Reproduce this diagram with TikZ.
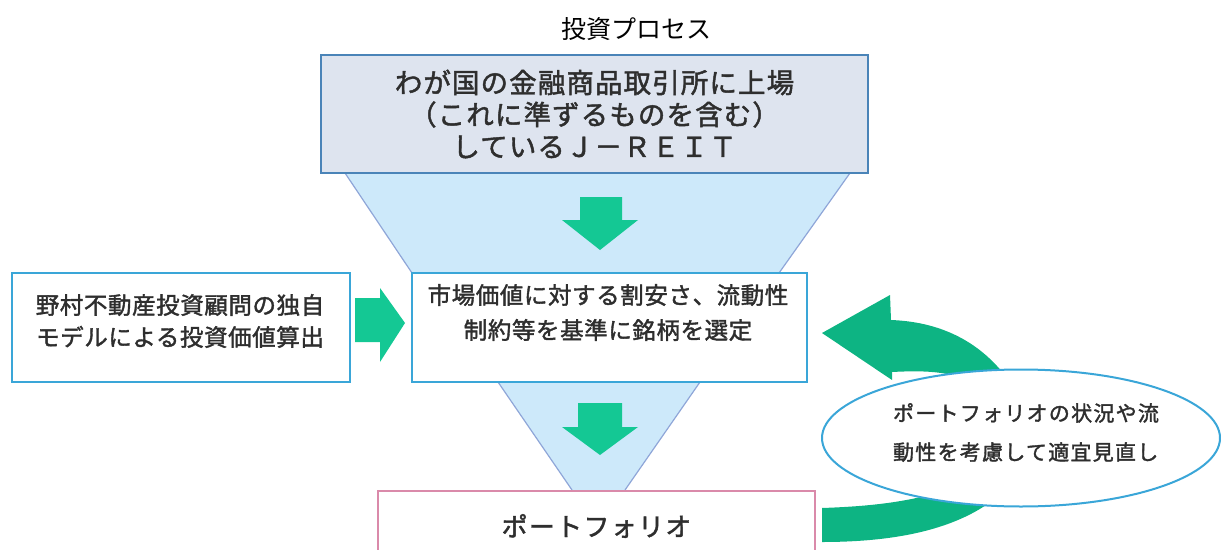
\documentclass[tikz,border=0pt]{standalone}
\usepackage{fontspec}
\setmainfont{Noto Sans CJK JP}
\newfontfamily\jpbold{Noto Sans CJK JP}[FakeBold=1.6]
\usetikzlibrary{shapes.geometric}
\definecolor{funnelfill}{HTML}{CDE9FA}
\definecolor{funneledge}{HTML}{8FA6D8}
\definecolor{topfill}{HTML}{DEE4EF}
\definecolor{topedge}{HTML}{4A84B8}
\definecolor{boxedge}{HTML}{3AA6D8}
\definecolor{pinkedge}{HTML}{DA8AAA}
\definecolor{arrowgreen}{HTML}{14C894}
\definecolor{curvegreen}{HTML}{0DB483}
\definecolor{txt}{HTML}{2E2E2E}
\begin{document}
\begin{tikzpicture}[x=1pt,y=-1pt,
  boxstyle/.style={draw=boxedge,line width=2pt,fill=white,inner sep=0pt},
  boxtext/.style={text=txt,align=center,inner sep=0pt},
  blockarrow/.style={fill=arrowgreen,draw=none}]
\useasboundingbox (0,0) rectangle (1221,549);
% title
\node[font=\fontsize{25}{30}\selectfont,text=black] (title) at (636,29) {投資プロセス};
% funnel
\fill[funnelfill] (345,173) -- (850,173) -- (779,273) -- (412,273) -- cycle;
\draw[funneledge,line width=1.2pt] (345,173) -- (412,273) (850,173) -- (779,273);
\fill[funnelfill] (498,382) -- (700,382) -- (625,490) -- (572,490) -- cycle;
\draw[funneledge,line width=1.2pt] (498,382) -- (572,490) (700,382) -- (625,490);
% top box
\node[draw=topedge,line width=2.5pt,fill=topfill,minimum width=547pt,minimum height=118pt,
  text=txt,align=center,font=\jpbold\addfontfeature{LetterSpace=4}\fontsize{27.5}{32}\selectfont] (top) at (594.5,114)
  {わが国の金融商品取引所に上場\\（これに準ずるものを含む）\\しているＪ－ＲＥＩＴ};
% middle and left boxes
\node[boxstyle,minimum width=395pt,minimum height=109pt] (mid) at (609.5,327.5) {};
\node[boxtext,font=\jpbold\addfontfeature{LetterSpace=2.5}\fontsize{23.5}{35}\selectfont] (midtext) at (608,312.5)
  {市場価値に対する割安さ、流動性\\制約等を基準に銘柄を選定};
\node[boxstyle,minimum width=338pt,minimum height=109pt] (left) at (181,327.5) {};
\node[boxtext,font=\jpbold\addfontfeature{LetterSpace=2.5}\fontsize{23.5}{32}\selectfont] (lefttext) at (180,321)
  {野村不動産投資顧問の独自\\モデルによる投資価値算出};
% portfolio box
\node[draw=pinkedge,line width=2pt,fill=white,minimum width=437pt,minimum height=70pt,anchor=north,
  text=txt,font=\jpbold\addfontfeature{LetterSpace=5}\fontsize{26}{30}\selectfont] (port) at (596.5,490) {ポートフォリオ};
% block arrows
\fill[blockarrow] (580,197) -- (622,197) -- (622,220) -- (638,220) -- (600,250) -- (562,220) -- (580,220) -- cycle;
\fill[blockarrow] (578,403) -- (622,403) -- (622,427) -- (638,427) -- (600,455) -- (562,427) -- (578,427) -- cycle;
\fill[blockarrow] (355,298) -- (380,298) -- (380,288) -- (405,323) -- (380,362) -- (380,342) -- (355,342) -- cycle;
% curved feedback arrow
\fill[curvegreen] (822,542) .. controls (900,542) and (965,528) .. (1005,490) -- (1012,385)
  .. controls (985,345) and (945,322) .. (891,320) -- (890,295) -- (822,333) -- (892,380) -- (892,372)
  .. controls (930,370) and (955,372) .. (975,385) -- (990,470)
  .. controls (940,500) and (880,506) .. (822,508) -- cycle;
% ellipse
\node[ellipse,draw=boxedge,line width=2pt,fill=white,minimum width=398pt,minimum height=137pt,inner sep=0pt] (review) at (1021,438) {};
\node[text=txt,align=left,inner sep=0pt,font=\jpbold\addfontfeature{LetterSpace=6}\fontsize{21}{39}\selectfont] (reviewtext) at (1026,432.5)
  {ポートフォリオの状況や流\\動性を考慮して適宜見直し};
\end{tikzpicture}
\end{document}
